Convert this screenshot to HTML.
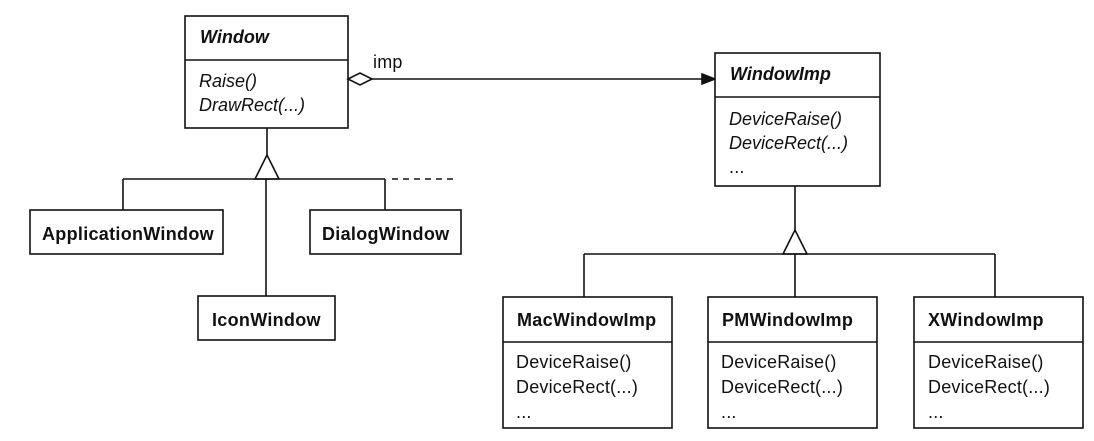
<!DOCTYPE html>
<html><head><style>
html,body{margin:0;padding:0;background:#fff;}
svg text{font-family:"Liberation Sans",Arial,sans-serif;fill:#111;}
.b{font-weight:bold;font-size:18px;letter-spacing:0.3px;}
.bi{font-weight:bold;font-style:italic;font-size:18px;}
.i{font-style:italic;font-size:18px;}
.n{font-size:18px;letter-spacing:0.2px;}
</style></head><body>
<svg width="1094" height="436" viewBox="0 0 1094 436" xmlns="http://www.w3.org/2000/svg">
<g fill="none" stroke="#111" stroke-width="1.6">
<rect x="185" y="16" width="163" height="112" fill="#fff"/>
<line x1="185" y1="60" x2="348" y2="60"/>
<polygon points="348,79 360,73 372,79 360,85" fill="#fff"/>
<line x1="372" y1="79" x2="702" y2="79"/>
<polygon points="702,74 715,79 702,84" fill="#111"/>
<rect x="715" y="53" width="165" height="133" fill="#fff"/>
<line x1="715" y1="97" x2="880" y2="97"/>
<line x1="267" y1="128" x2="267" y2="155"/>
<polygon points="267,155 255,179 279,179" fill="#fff"/>
<line x1="123" y1="179" x2="385" y2="179"/>
<line x1="392" y1="179" x2="455" y2="179" stroke-dasharray="6,5"/>
<line x1="123" y1="179" x2="123" y2="210"/>
<line x1="385" y1="179" x2="385" y2="210"/>
<line x1="266" y1="179" x2="266" y2="296"/>
<rect x="30" y="210" width="193" height="44"/>
<rect x="310" y="210" width="151" height="44"/>
<rect x="198" y="296" width="137" height="44"/>
<line x1="795" y1="186" x2="795" y2="230"/>
<polygon points="795,230 783,254 807,254" fill="#fff"/>
<line x1="584" y1="254" x2="995" y2="254"/>
<line x1="584" y1="254" x2="584" y2="297"/>
<line x1="795" y1="254" x2="795" y2="297"/>
<line x1="995" y1="254" x2="995" y2="297"/>
<rect x="503" y="297" width="169" height="131"/>
<line x1="503" y1="342" x2="672" y2="342"/>
<rect x="708" y="297" width="169" height="131"/>
<line x1="708" y1="342" x2="877" y2="342"/>
<rect x="914" y="297" width="169" height="131"/>
<line x1="914" y1="342" x2="1083" y2="342"/>
</g>
<text class="bi" x="200" y="43">Window</text>
<text class="i" x="199" y="87">Raise()</text>
<text class="i" x="199" y="111">DrawRect(...)</text>
<text class="n" x="373" y="68">imp</text>
<text class="bi" x="730" y="80">WindowImp</text>
<text class="i" x="729" y="125">DeviceRaise()</text>
<text class="i" x="729" y="149">DeviceRect(...)</text>
<text class="n" x="729" y="173">...</text>
<text class="b" x="42" y="240">ApplicationWindow</text>
<text class="b" x="322" y="240">DialogWindow</text>
<text class="b" x="212" y="326">IconWindow</text>
<text class="b" x="517" y="326">MacWindowImp</text>
<text class="n" x="516" y="368">DeviceRaise()</text>
<text class="n" x="516" y="393">DeviceRect(...)</text>
<text class="n" x="516" y="418">...</text>
<text class="b" x="722" y="326">PMWindowImp</text>
<text class="n" x="721" y="368">DeviceRaise()</text>
<text class="n" x="721" y="393">DeviceRect(...)</text>
<text class="n" x="721" y="418">...</text>
<text class="b" x="928" y="326">XWindowImp</text>
<text class="n" x="928" y="368">DeviceRaise()</text>
<text class="n" x="928" y="393">DeviceRect(...)</text>
<text class="n" x="928" y="418">...</text>
</svg>
</body></html>
